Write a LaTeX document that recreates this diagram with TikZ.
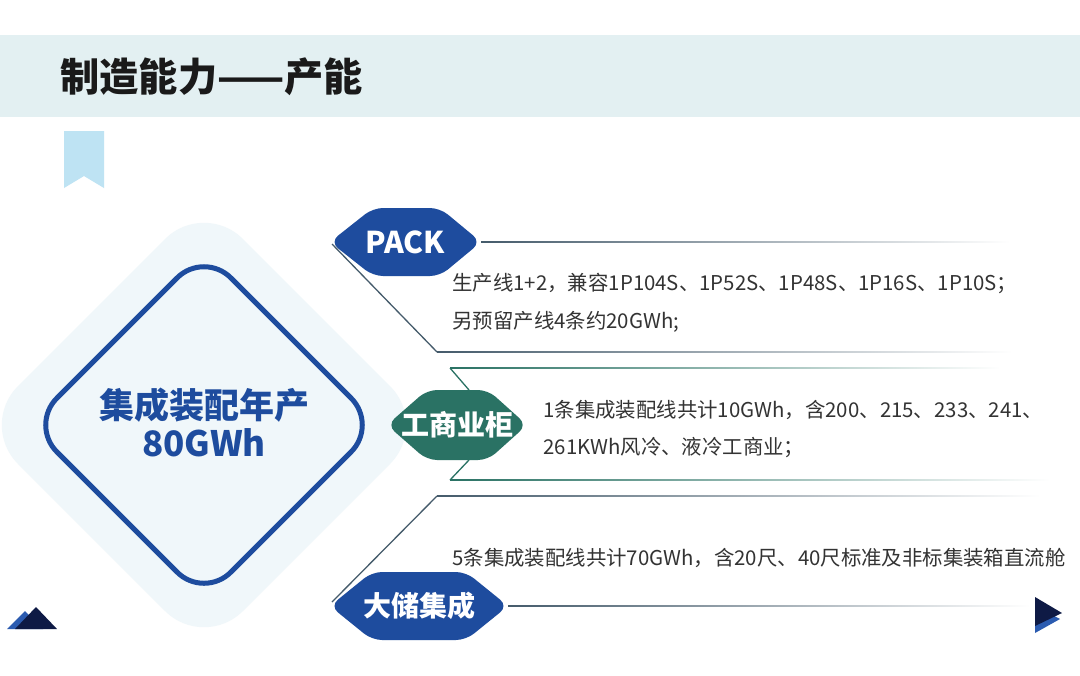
\documentclass[tikz,border=0pt]{standalone}
\usepackage{fontspec}
\setmainfont{Noto Sans CJK SC}
\definecolor{band}{HTML}{E3F0F2}
\definecolor{ribbon}{HTML}{BEE3F3}
\definecolor{navy}{HTML}{1E4C9E}
\definecolor{tealc}{HTML}{2A7264}
\definecolor{linegray}{HTML}{455B6B}
\definecolor{bodytext}{HTML}{333333}
\definecolor{glow}{HTML}{F0F7FA}
\definecolor{darknavy}{HTML}{0E1A45}
\definecolor{midblue}{HTML}{2B5BB0}
\definecolor{titletext}{HTML}{1A1A1A}
\begin{document}
\begin{tikzpicture}[x=0.5pt,y=-0.5pt,
  labelshape/.style={fill=#1, rounded corners=5pt},
  labeltext/.style={text=white, font=\bfseries\fontsize{14pt}{16pt}\selectfont, inner sep=0},
  body/.style={text=bodytext, anchor=west, inner sep=0, font=\fontsize{10.2pt}{12pt}\selectfont},
  conn/.style={draw=#1, line width=0.65pt},
  fadeconn/.style={left color=#1, middle color=#1!85!white, right color=white, draw=none},
  maintext/.style={text=navy, font=\bfseries\fontsize{17.5pt}{20pt}\selectfont, inner sep=0}
]
\useasboundingbox (0,0) rectangle (1080,675);
\fill[white] (0,0) rectangle (1080,675);
% header band
\fill[band] (0,35) rectangle (1080,117);
\node[anchor=west, inner sep=0, text=titletext, font=\bfseries\fontsize{19.6pt}{22pt}\selectfont] (title) at (60,77) {制造能力——产能};
% bookmark
\fill[ribbon] (64,131) -- (104,131) -- (104,188) -- (84,176) -- (64,188) -- cycle;
% glow diamond
\fill[glow, rounded corners=27.5pt] (204,200) -- (429,425) -- (204,650) -- (-21,425) -- cycle;
% main diamond outline
\draw[navy, line width=2.5pt, rounded corners=19pt] (204,251) -- (378,425) -- (204,599) -- (30,425) -- cycle;
\node[maintext] (main1) at (204,405) {集成装配年产};
\node[maintext] (main2) at (204,443) {80GWh};
% label shapes
\fill[labelshape=navy] (330,242) -- (373,208) -- (440,208) -- (481,242) -- (440,276) -- (373,276) -- cycle;
\node[labeltext, font=\bfseries\fontsize{15pt}{17pt}\selectfont] (pack) at (405,242) {PACK};
\fill[labelshape=tealc] (387,425) -- (427,390) -- (488,390) -- (527,425) -- (488,460) -- (427,460) -- cycle;
\node[labeltext] (gsy) at (457,425) {工商业柜};
\fill[labelshape=navy] (330,606) -- (372,572) -- (466,572) -- (508,606) -- (466,640) -- (372,640) -- cycle;
\node[labeltext] (dcj) at (419,606) {大储集成};
% connector coordinates
\coordinate (pL) at (332,244);
\coordinate (pR) at (481,242);
\coordinate (pRend) at (1010,242);
\coordinate (pB) at (437,352);
\coordinate (pBend) at (1012,352);
\coordinate (gT) at (450,368);
\coordinate (gTend) at (1000,368);
\coordinate (gTs) at (469,390);
\coordinate (gBs) at (469,460);
\coordinate (gB) at (450,480);
\coordinate (gBend) at (1050,480);
\coordinate (dL) at (332,602);
\coordinate (dT) at (437,496);
\coordinate (dTend) at (1040,496);
\coordinate (dR) at (508,606);
\coordinate (dRend) at (1030,606);
% connectors
\draw[conn=linegray] (pL) -- (pB);
\shade[fadeconn=linegray] ([yshift=-0.33pt]pR) rectangle ([yshift=0.33pt]pRend);
\shade[fadeconn=linegray] ([yshift=-0.33pt]pB) rectangle ([yshift=0.33pt]pBend);
\draw[conn=tealc] (gTs) -- (gT);
\shade[fadeconn=tealc] ([yshift=-0.33pt]gT) rectangle ([yshift=0.33pt]gTend);
\draw[conn=tealc] (gBs) -- (gB);
\shade[fadeconn=tealc] ([yshift=-0.33pt]gB) rectangle ([yshift=0.33pt]gBend);
\draw[conn=linegray] (dL) -- (dT);
\shade[fadeconn=linegray] ([yshift=-0.33pt]dT) rectangle ([yshift=0.33pt]dTend);
\shade[fadeconn=linegray] ([yshift=-0.33pt]dR) rectangle ([yshift=0.33pt]dRend);
% body texts
\node[body] (t1a) at (452,283) {生产线1+2，兼容1P104S、1P52S、1P48S、1P16S、1P10S；};
\node[body] (t1b) at (452,322) {另预留产线4条约20GWh;};
\node[body] (t2a) at (543,410) {1条集成装配线共计10GWh，含200、215、233、241、};
\node[body] (t2b) at (543,448) {261KWh风冷、液冷工商业；};
\node[body] (t3a) at (452,558) {5条集成装配线共计70GWh，含20尺、40尺标准及非标集装箱直流舱};
% right arrow
\fill[midblue] (1035,606) -- (1060,619) -- (1035,633) -- cycle;
\fill[darknavy] (1035,597) -- (1062,613) -- (1035,626) -- cycle;
% mountains
\fill[midblue] (7,629) -- (25,611) -- (43,629) -- cycle;
\fill[darknavy] (15,629) -- (36,607) -- (57,629) -- cycle;
\end{tikzpicture}
\end{document}
